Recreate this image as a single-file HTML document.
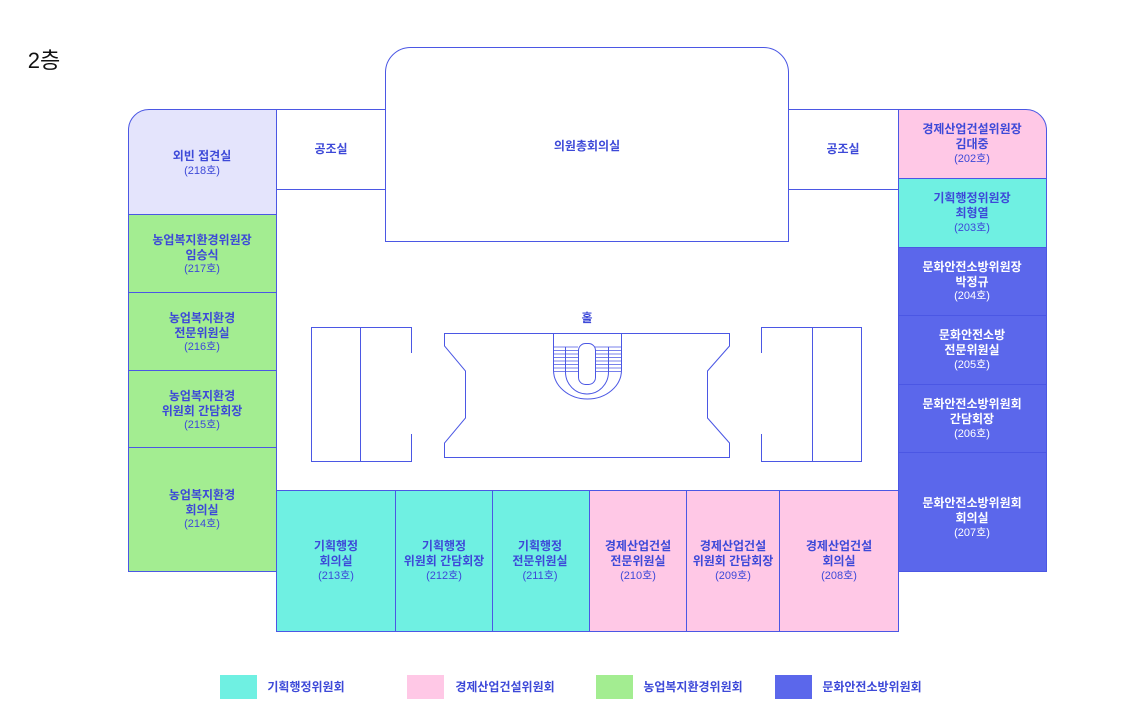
<!DOCTYPE html>
<html><head><meta charset="utf-8"><style>
html,body{margin:0;padding:0;background:#fff;width:1140px;height:720px;overflow:hidden}
svg text{font-family:"Liberation Sans","Noto Sans CJK KR",sans-serif;font-weight:bold;fill:#3d49d8;text-anchor:middle}
svg text.n{font-size:11px;font-weight:normal}
svg text.w{fill:#fff}
</style></head><body>
<svg width="1140" height="720" viewBox="0 0 1140 720" xmlns="http://www.w3.org/2000/svg">
<g stroke="#4b57e4" stroke-width="1">
<!-- main hall top -->
<path d="M385.5,241.5 V72 A25,25 0 0 1 410.5,47.5 H763 A25,25 0 0 1 788.5,72 V241.5 Z" fill="#fff"/>
<rect x="276.5" y="109.5" width="109" height="80" fill="#fff"/>
<rect x="788.5" y="109.5" width="110" height="80" fill="#fff"/>
<!-- left column -->
<path d="M128.5,214.5 V130 A20.5,20.5 0 0 1 149,109.5 H276.5 V214.5 Z" fill="#e4e4fc"/>
<rect x="128.5" y="214.5" width="148" height="78" fill="#a3ed91"/>
<rect x="128.5" y="292.5" width="148" height="78" fill="#a3ed91"/>
<rect x="128.5" y="370.5" width="148" height="77" fill="#a3ed91"/>
<rect x="128.5" y="447.5" width="148" height="124" fill="#a3ed91"/>
<!-- right column -->
<path d="M898.5,178.5 V109.5 H1026 A20.5,20.5 0 0 1 1046.5,130 V178.5 Z" fill="#ffc8e6"/>
<rect x="898.5" y="178.5" width="148" height="69" fill="#6ff0e2"/>
<rect x="898.5" y="247.5" width="148" height="68" fill="#5b67eb"/>
<rect x="898.5" y="315.5" width="148" height="69" fill="#5b67eb"/>
<rect x="898.5" y="384.5" width="148" height="68" fill="#5b67eb"/>
<rect x="898.5" y="452.5" width="148" height="119" fill="#5b67eb"/>
<!-- bottom row -->
<rect x="276.5" y="490.5" width="119" height="141" fill="#6ff0e2"/>
<rect x="395.5" y="490.5" width="97" height="141" fill="#6ff0e2"/>
<rect x="492.5" y="490.5" width="97" height="141" fill="#6ff0e2"/>
<rect x="589.5" y="490.5" width="97" height="141" fill="#ffc8e6"/>
<rect x="686.5" y="490.5" width="93" height="141" fill="#ffc8e6"/>
<rect x="779.5" y="490.5" width="119" height="141" fill="#ffc8e6"/>
<line x1="276.5" y1="189.5" x2="276.5" y2="490.5"/>
<line x1="898.5" y1="189.5" x2="898.5" y2="490.5"/>
<!-- side stair boxes -->
<path d="M411.5,353 V327.5 H311.5 V461.5 H411.5 V434" fill="none"/>
<line x1="360.5" y1="327.5" x2="360.5" y2="461.5"/>
<path d="M761.5,353 V327.5 H861.5 V461.5 H761.5 V434" fill="none"/>
<line x1="812.5" y1="327.5" x2="812.5" y2="461.5"/>
<!-- hall -->
<path d="M444.5,333.5 H729.5 V346 L707.5,371 V418 L729.5,443 V457.5 H444.5 V443 L465.5,418 V371 L444.5,346 Z" fill="none"/>
<!-- stairs -->
<path d="M553.5,333.5 V370 A34,29 0 0 0 621.5,370 V333.5" fill="none"/>
<path d="M565.5,347 V372 A21.5,22 0 0 0 608.5,372 V347" fill="none"/>
<g stroke-width="0.8">
<line x1="553.5" y1="347" x2="578" y2="347"/><line x1="595" y1="347" x2="621.5" y2="347"/>
<line x1="553.5" y1="350.5" x2="578" y2="350.5"/><line x1="595" y1="350.5" x2="621.5" y2="350.5"/>
<line x1="553.5" y1="354" x2="578" y2="354"/><line x1="595" y1="354" x2="621.5" y2="354"/>
<line x1="553.5" y1="357.5" x2="578" y2="357.5"/><line x1="595" y1="357.5" x2="621.5" y2="357.5"/>
<line x1="553.5" y1="361" x2="578" y2="361"/><line x1="595" y1="361" x2="621.5" y2="361"/>
<line x1="553.5" y1="364.5" x2="578" y2="364.5"/><line x1="595" y1="364.5" x2="621.5" y2="364.5"/>
<line x1="553.5" y1="368" x2="578" y2="368"/><line x1="595" y1="368" x2="621.5" y2="368"/>
<line x1="553.5" y1="371.5" x2="578" y2="371.5"/><line x1="595" y1="371.5" x2="621.5" y2="371.5"/>
</g>
<rect x="578.5" y="343.5" width="17" height="41" rx="7" fill="#fff"/>
</g>
<!-- legend -->
<rect x="220" y="675" width="37" height="24" fill="#6ff0e2"/>
<rect x="407" y="675" width="37" height="24" fill="#ffc8e6"/>
<rect x="596" y="675" width="37" height="24" fill="#a3ed91"/>
<rect x="775" y="675" width="37" height="24" fill="#5b67eb"/>
<g font-size="12">
<text x="306" y="691">기획행정위원회</text>
<text x="505" y="691">경제산업건설위원회</text>
<text x="693" y="691">농업복지환경위원회</text>
<text x="872" y="691">문화안전소방위원회</text>
</g>
<text x="44" y="68" style="font-size:22px;font-weight:normal;fill:#111">2층</text>
<g font-size="12">
<text x="202" y="160">외빈 접견실</text><text class="n" x="202" y="174">(218호)</text>
<text x="331" y="153">공조실</text>
<text x="843" y="153">공조실</text>
<text x="587" y="150">의원총회의실</text>
<text x="587" y="322">홀</text>
<text x="202" y="244">농업복지환경위원장</text><text x="202" y="259">임승식</text><text class="n" x="202" y="272">(217호)</text>
<text x="202" y="322">농업복지환경</text><text x="202" y="337">전문위원실</text><text class="n" x="202" y="350">(216호)</text>
<text x="202" y="400">농업복지환경</text><text x="202" y="415">위원회 간담회장</text><text class="n" x="202" y="428">(215호)</text>
<text x="202" y="499">농업복지환경</text><text x="202" y="514">회의실</text><text class="n" x="202" y="527">(214호)</text>
<text x="972" y="133">경제산업건설위원장</text><text x="972" y="148">김대중</text><text class="n" x="972" y="162">(202호)</text>
<text x="972" y="202">기획행정위원장</text><text x="972" y="217">최형열</text><text class="n" x="972" y="231">(203호)</text>
<g class="w"><text class="w" x="972" y="271">문화안전소방위원장</text><text class="w" x="972" y="286">박정규</text><text class="n w" x="972" y="299">(204호)</text>
<text class="w" x="972" y="339">문화안전소방</text><text class="w" x="972" y="354">전문위원실</text><text class="n w" x="972" y="368">(205호)</text>
<text class="w" x="972" y="408">문화안전소방위원회</text><text class="w" x="972" y="423">간담회장</text><text class="n w" x="972" y="437">(206호)</text>
<text class="w" x="972" y="507">문화안전소방위원회</text><text class="w" x="972" y="522">회의실</text><text class="n w" x="972" y="536">(207호)</text></g>
<text x="336" y="550">기획행정</text><text x="336" y="565">회의실</text><text class="n" x="336" y="579">(213호)</text>
<text x="444" y="550">기획행정</text><text x="444" y="565">위원회 간담회장</text><text class="n" x="444" y="579">(212호)</text>
<text x="540" y="550">기획행정</text><text x="540" y="565">전문위원실</text><text class="n" x="540" y="579">(211호)</text>
<text x="638" y="550">경제산업건설</text><text x="638" y="565">전문위원실</text><text class="n" x="638" y="579">(210호)</text>
<text x="733" y="550">경제산업건설</text><text x="733" y="565">위원회 간담회장</text><text class="n" x="733" y="579">(209호)</text>
<text x="839" y="550">경제산업건설</text><text x="839" y="565">회의실</text><text class="n" x="839" y="579">(208호)</text>
</g>
</svg>
</body></html>
